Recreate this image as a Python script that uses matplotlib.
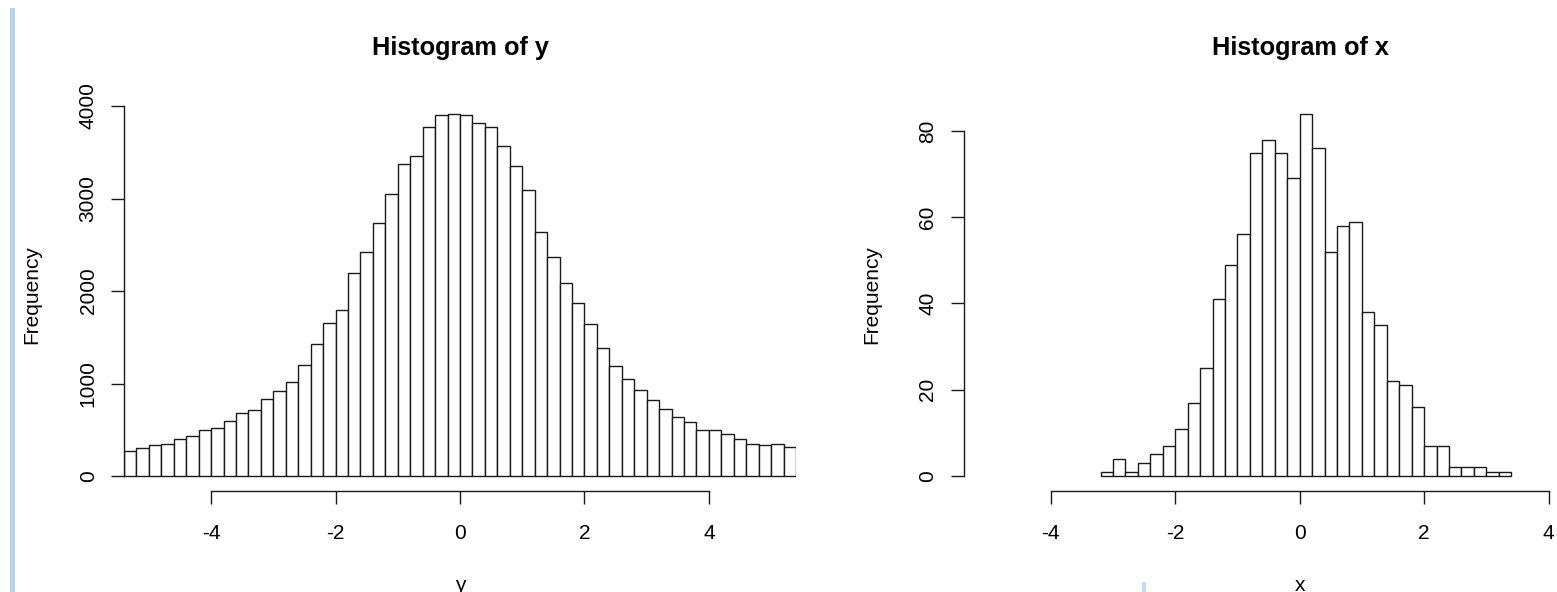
import numpy as np
import matplotlib
matplotlib.use("Agg")
import matplotlib.pyplot as plt
from matplotlib.patches import Rectangle

plt.rcParams['font.family'] = ['Liberation Sans', 'DejaVu Sans']
plt.rcParams['axes.unicode_minus'] = False

# histogram of y: 54 bins of width 0.2 from -5.4 to 5.4
y_breaks = np.linspace(-5.4, 5.4, 55)
y_counts = [270, 306, 331, 342, 404, 429, 501, 523, 598, 681, 714, 836, 919, 1016,
            1196, 1423, 1654, 1798, 2198, 2422, 2735, 3049, 3373, 3459, 3769, 3906, 3917,
            3906, 3813, 3769, 3568, 3351, 3088, 2641, 2364, 2086, 1870, 1640, 1380, 1186,
            1052, 930, 822, 728, 634, 584, 497, 497, 450, 400, 342, 331, 342, 317]
y_ticks = [0, 1000, 2000, 3000, 4000]

# histogram of x: 33 bins of width 0.2 from -3.2 to 3.4
x_breaks = np.linspace(-3.2, 3.4, 34)
x_counts = [1, 4, 1, 3, 5, 7, 11, 17, 25, 41, 49, 56, 75, 78, 75, 69, 84,
            76, 52, 58, 59, 38, 35, 22, 21, 16, 7, 7, 2, 2, 2, 1, 1]
x_ticks = [0, 20, 40, 60, 80]

xaxis_ticks = [-4, -2, 0, 2, 4]

W, H = 1557, 592
fig = plt.figure(figsize=(W / 100, H / 100), dpi=100)
fig.patch.set_facecolor('white')

# thin blue strip along the left edge, plus a small blue mark near the bottom
fig.patches.append(Rectangle((10 / W, 0), 5 / W, (H - 8) / H, transform=fig.transFigure,
                             facecolor='#b7d2ec', edgecolor='none'))
fig.patches.append(Rectangle((1142 / W, 0), 4 / W, 10 / H, transform=fig.transFigure,
                             facecolor='#c5dbef', edgecolor='none'))

ink = '#1a1a1a'
lw = 1.0


def px_axes(x0, x1, ytop, ybot):
    return fig.add_axes([x0 / W, 1 - ybot / H, (x1 - x0) / W, (ybot - ytop) / H])


def r_hist(ax, breaks, counts, yticks, title, xlab, xc):
    ax.bar(breaks[:-1], counts, width=np.diff(breaks), align='edge',
           color='white', edgecolor=ink, linewidth=lw)
    top = max(counts)
    ax.set_xlim(-5.4, 5.4)
    ax.set_ylim(-0.04 * top, 1.04 * top)
    for s in ('top', 'right'):
        ax.spines[s].set_visible(False)
    for s in ('left', 'bottom'):
        ax.spines[s].set_color(ink)
        ax.spines[s].set_linewidth(lw)
    ax.spines['bottom'].set_bounds(xaxis_ticks[0], xaxis_ticks[-1])
    ax.spines['left'].set_bounds(yticks[0], yticks[-1])
    ax.set_xticks(xaxis_ticks)
    ax.set_yticks(yticks)
    ax.tick_params(axis='both', length=9.4, width=lw, color=ink, labelsize=15,
                   labelcolor='black')
    ax.tick_params(axis='x', pad=15)
    ax.tick_params(axis='y', pad=9.5)
    for lab in ax.get_yticklabels():
        lab.set_rotation(90)
        lab.set_va('center')
    ax.patch.set_alpha(0)

    fig.text(xc / W, 1 - 55 / H, title, ha='center', va='baseline',
             fontsize=18.2, fontweight='bold')
    fig.text(xc / W, 1 - 591 / H, xlab, ha='center', va='baseline', fontsize=15)


ax1 = px_axes(124, 796, 99.2, 490.5)
r_hist(ax1, y_breaks, y_counts, y_ticks, 'Histogram of y', 'y', 460)
fig.text(37 / W, 1 - 295 / H, 'Frequency', rotation=90, rotation_mode='anchor',
         ha='center', va='baseline', fontsize=15)

ax2 = px_axes(963.7, 1635.7, 99.2, 490.5)
r_hist(ax2, x_breaks, x_counts, x_ticks, 'Histogram of x', 'x', 1300)
fig.text(877 / W, 1 - 295 / H, 'Frequency', rotation=90, rotation_mode='anchor',
         ha='center', va='baseline', fontsize=15)

fig.savefig('out.png', dpi=100)
